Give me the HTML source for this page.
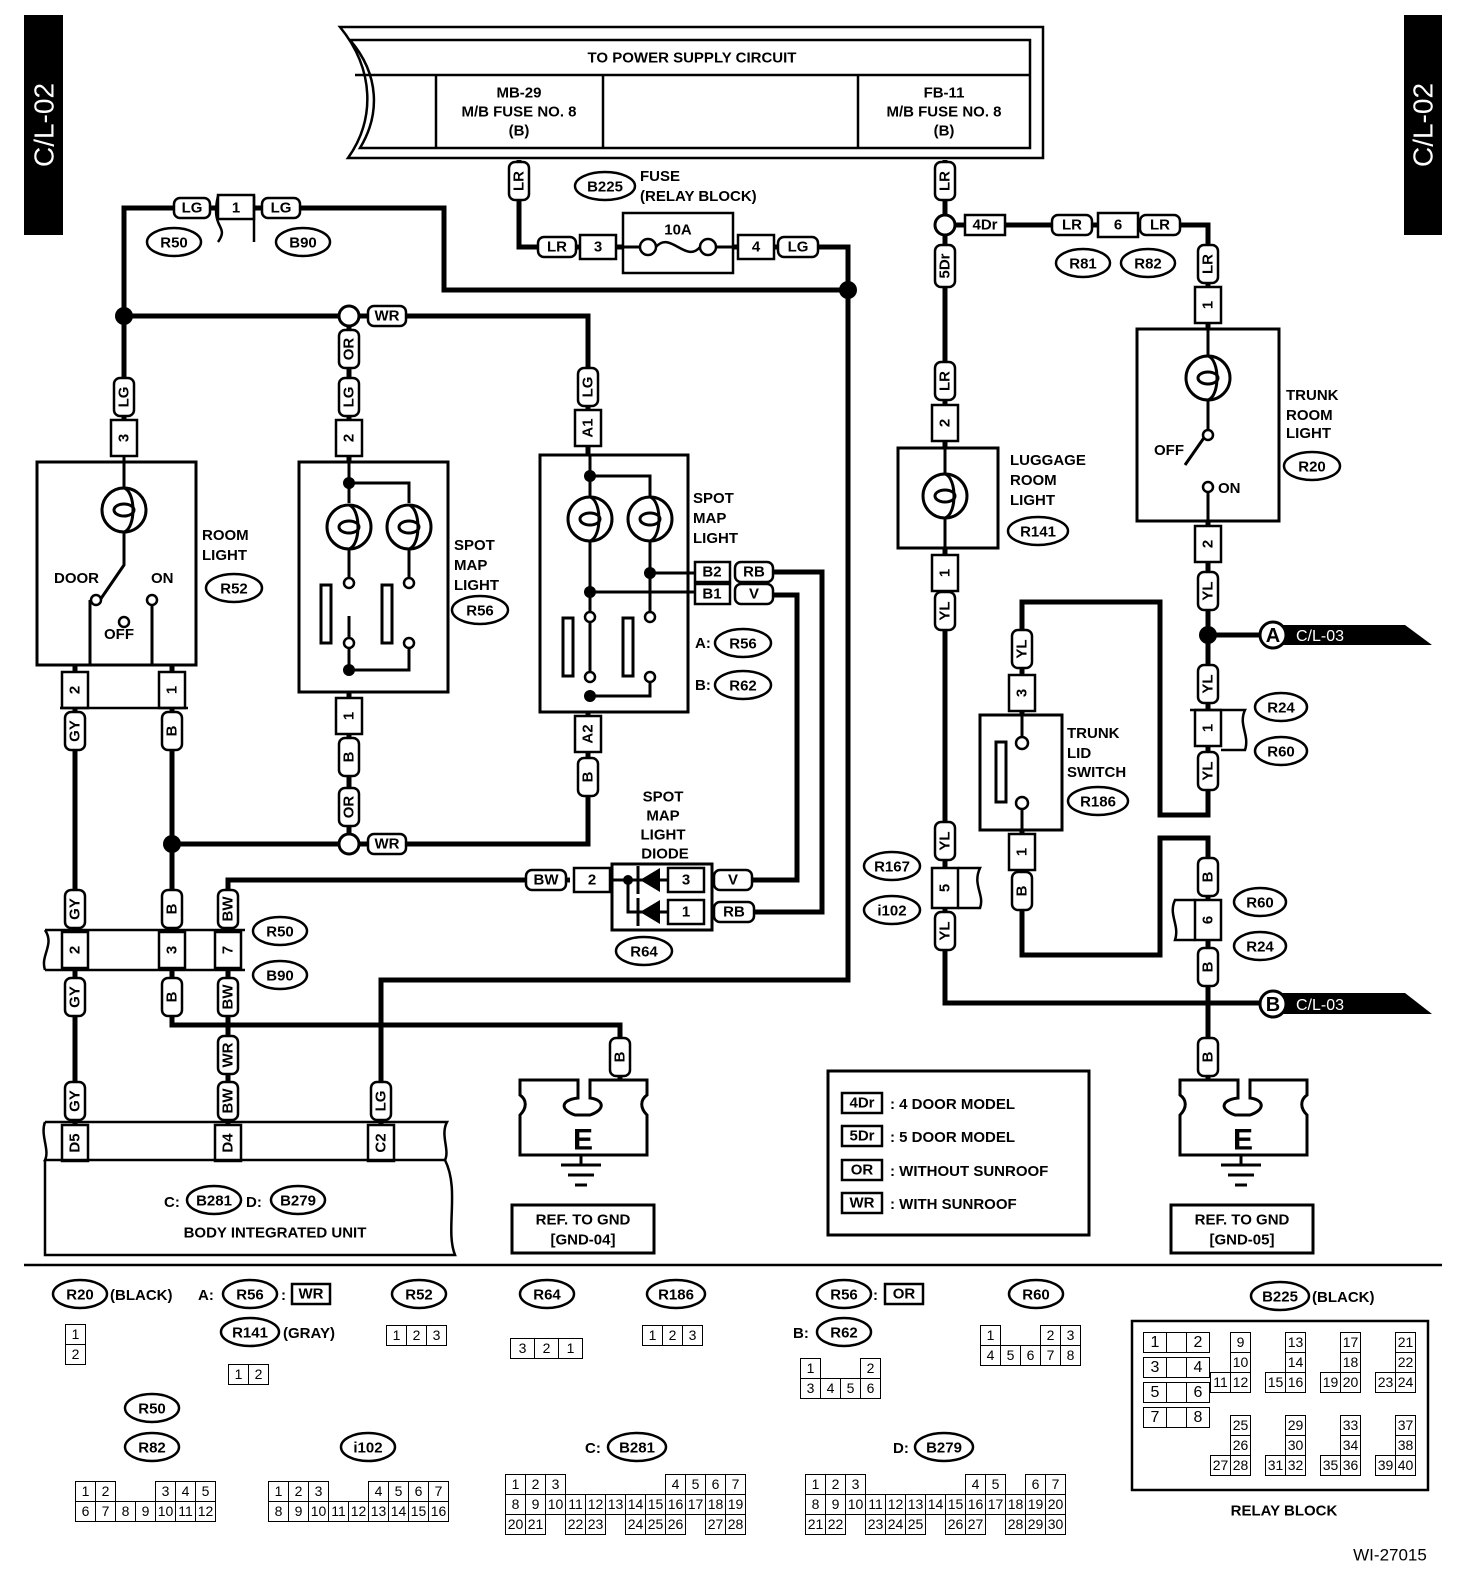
<!DOCTYPE html>
<html><head><meta charset="utf-8">
<style>
html,body{margin:0;padding:0;background:#fff;overflow:hidden;width:1472px;height:1578px;}
#w{position:relative;width:1472px;height:1578px;overflow:hidden;}
svg{position:absolute;left:0;top:0;}
svg text{font-family:"Liberation Sans",sans-serif;font-weight:bold;font-size:15px;fill:#000;}
.t{text-anchor:middle;dominant-baseline:central;}
table.c{position:absolute;border-collapse:collapse;font-family:"Liberation Sans",sans-serif;font-size:14px;}
table.c td{border:1.5px solid #000;width:19px;height:19px;padding:0;text-align:center;line-height:19px;}
table.c td.g{border:none;}
</style></head><body><div id="w">
<svg width="1472" height="1578" viewBox="0 0 1472 1578" xmlns="http://www.w3.org/2000/svg">
<defs>
<g id="lamp"><circle r="22" fill="#fff" stroke="#000" stroke-width="3"/><ellipse rx="10" ry="6" fill="none" stroke="#000" stroke-width="3"/><path d="M0,-22 C12,-18 12,18 0,22" fill="none" stroke="#000" stroke-width="3"/></g>
</defs>
<rect x="24" y="15" width="39" height="220" fill="#000"/>
<text transform="translate(44,125) rotate(-90)" class="t" style="fill:#fff;font-size:28px;font-weight:normal">C/L-02</text>
<rect x="1404" y="15" width="38" height="220" fill="#000"/>
<text transform="translate(1423,125) rotate(-90)" class="t" style="fill:#fff;font-size:28px;font-weight:normal">C/L-02</text>

<g fill="none" stroke="#000" stroke-width="2.5">
<path d="M340,27 H1043 V158 H348 C375,120 375,70 340,27 Z"/>
<path d="M350,40 H1030 V148 H360 C380,115 380,75 350,40 Z"/>
<line x1="355" y1="75" x2="1030" y2="75"/>
<line x1="436" y1="75" x2="436" y2="148"/><line x1="603" y1="75" x2="603" y2="148"/><line x1="858" y1="75" x2="858" y2="148"/>
</g>
<text x="692" y="58" class="t">TO POWER SUPPLY CIRCUIT</text>
<text x="519" y="93" class="t">MB-29</text><text x="519" y="112" class="t">M/B FUSE NO. 8</text><text x="519" y="131" class="t">(B)</text>
<text x="944" y="93" class="t">FB-11</text><text x="944" y="112" class="t">M/B FUSE NO. 8</text><text x="944" y="131" class="t">(B)</text>

<g fill="none" stroke="#000" stroke-width="5" stroke-linejoin="miter">
<path d="M124,440 V208 H444 V290 H848"/>
<path d="M820,247 H848 V980 H381 V1125"/>
<path d="M519,160 V247 H623"/><path d="M733,247 H820"/>
<path d="M124,316 H588 V455"/>
<path d="M349,316 V462"/>
<path d="M75,665 V1125"/>
<path d="M172,665 V1025 H620 V1080"/>
<path d="M172,844 H588 V712"/>
<path d="M349,692 V844"/>
<path d="M228,1125 V880 H570"/>
<path d="M712,880 H797 V595 H760"/>
<path d="M712,912 H822 V572 H770"/>
<path d="M945,160 V448"/>
<path d="M945,225 H1208 V329"/>
<path d="M945,548 V1003 H1260"/>
<path d="M1208,521 V815 H1160 V602 H1022 V715"/>
<path d="M1208,635 H1260"/>
<path d="M1022,830 V955 H1160 V838 H1208 V1080"/>
</g>
<g fill="#000"><circle cx="124" cy="316" r="9"/><circle cx="848" cy="290" r="9"/><circle cx="172" cy="844" r="9"/><circle cx="1208" cy="635" r="9"/></g>
<g fill="#fff" stroke="#000" stroke-width="3"><circle cx="349" cy="316" r="10"/><circle cx="349" cy="844" r="10"/><circle cx="945" cy="225" r="10"/></g>

<rect x="623" y="213" width="110" height="60" fill="#fff" stroke="#000" stroke-width="2.5"/>
<path d="M623,247 H640 M716,247 H733" stroke="#000" stroke-width="3"/>
<circle cx="648" cy="247" r="8" fill="#fff" stroke="#000" stroke-width="2.5"/><circle cx="708" cy="247" r="8" fill="#fff" stroke="#000" stroke-width="2.5"/>
<path d="M656,247 C670,230 686,264 700,247" fill="none" stroke="#000" stroke-width="2.5"/>
<text x="678" y="230" class="t">10A</text>
<text x="640" y="181">FUSE</text><text x="640" y="201">(RELAY BLOCK)</text>

<g fill="#fff" stroke="#000" stroke-width="2.5">
<rect x="174" y="198" width="36" height="20" rx="6"/><rect x="262" y="198" width="38" height="20" rx="6"/>
<rect x="218" y="195" width="36" height="24"/>
<rect x="368" y="306" width="38" height="20" rx="6"/>
<rect x="368" y="834" width="38" height="20" rx="6"/>
<rect x="538" y="237" width="38" height="20" rx="6"/><rect x="580" y="235" width="36" height="24"/>
<rect x="738" y="235" width="36" height="24"/><rect x="778" y="237" width="40" height="20" rx="6"/>
<rect x="965" y="215" width="40" height="20"/>
<rect x="1052" y="215" width="40" height="20" rx="6"/><rect x="1098" y="213" width="40" height="24"/><rect x="1140" y="215" width="40" height="20" rx="6"/>
<rect x="526" y="870" width="40" height="20" rx="6"/><rect x="574" y="868" width="36" height="24"/>
<rect x="668" y="868" width="36" height="24"/><rect x="668" y="900" width="36" height="24"/>
<rect x="714" y="870" width="38" height="20" rx="6"/><rect x="714" y="902" width="40" height="20" rx="6"/>
<rect x="695" y="562" width="35" height="20"/><rect x="695" y="584" width="35" height="20"/>
<rect x="735" y="562" width="38" height="20" rx="6"/><rect x="735" y="584" width="38" height="20" rx="6"/>
</g>
<text x="192" y="208" class="t">LG</text><text x="281" y="208" class="t">LG</text><text x="236" y="208" class="t">1</text>
<text x="387" y="316" class="t">WR</text><text x="387" y="844" class="t">WR</text>
<text x="557" y="247" class="t">LR</text><text x="598" y="247" class="t">3</text><text x="756" y="247" class="t">4</text><text x="798" y="247" class="t">LG</text>
<text x="985" y="225" class="t">4Dr</text><text x="1072" y="225" class="t">LR</text><text x="1118" y="225" class="t">6</text><text x="1160" y="225" class="t">LR</text>
<text x="546" y="880" class="t">BW</text><text x="592" y="880" class="t">2</text><text x="686" y="880" class="t">3</text><text x="686" y="912" class="t">1</text>
<text x="733" y="880" class="t">V</text><text x="734" y="912" class="t">RB</text>
<text x="712" y="572" class="t">B2</text><text x="712" y="594" class="t">B1</text><text x="754" y="572" class="t">RB</text><text x="754" y="594" class="t">V</text>

<g fill="#fff" stroke="#000" stroke-width="2.5">
<rect x="509" y="162" width="20" height="38" rx="6"/>
<rect x="935" y="162" width="20" height="38" rx="6"/>
<rect x="935" y="245" width="20" height="42" rx="6"/>
<rect x="935" y="362" width="20" height="38" rx="6"/>
<rect x="1198" y="245" width="20" height="38" rx="6"/>
<rect x="114" y="378" width="20" height="38" rx="6"/>
<rect x="339" y="330" width="20" height="38" rx="6"/><rect x="339" y="378" width="20" height="38" rx="6"/>
<rect x="578" y="368" width="20" height="38" rx="6"/>
<rect x="65" y="712" width="20" height="38" rx="6"/><rect x="162" y="712" width="20" height="38" rx="6"/>
<rect x="339" y="738" width="20" height="38" rx="6"/><rect x="339" y="788" width="20" height="38" rx="6"/>
<rect x="578" y="758" width="20" height="38" rx="6"/>
<rect x="65" y="890" width="20" height="38" rx="6"/><rect x="162" y="890" width="20" height="38" rx="6"/><rect x="218" y="890" width="20" height="38" rx="6"/>
<rect x="65" y="978" width="20" height="38" rx="6"/><rect x="162" y="978" width="20" height="38" rx="6"/><rect x="218" y="978" width="20" height="38" rx="6"/>
<rect x="218" y="1036" width="20" height="38" rx="6"/>
<rect x="65" y="1082" width="20" height="38" rx="6"/><rect x="218" y="1082" width="20" height="38" rx="6"/><rect x="371" y="1082" width="20" height="38" rx="6"/>
<rect x="610" y="1038" width="20" height="38" rx="6"/>
<rect x="935" y="592" width="20" height="38" rx="6"/>
<rect x="1198" y="572" width="20" height="38" rx="6"/>
<rect x="1012" y="630" width="20" height="38" rx="6"/>
<rect x="1198" y="665" width="20" height="38" rx="6"/><rect x="1198" y="752" width="20" height="38" rx="6"/>
<rect x="935" y="822" width="20" height="38" rx="6"/><rect x="935" y="912" width="20" height="38" rx="6"/>
<rect x="1012" y="872" width="20" height="38" rx="6"/>
<rect x="1198" y="858" width="20" height="38" rx="6"/><rect x="1198" y="948" width="20" height="38" rx="6"/>
<rect x="1198" y="1038" width="20" height="38" rx="6"/>
</g>
<g>
<text transform="translate(519,181) rotate(-90)" class="t">LR</text>
<text transform="translate(945,181) rotate(-90)" class="t">LR</text>
<text transform="translate(945,266) rotate(-90)" class="t">5Dr</text>
<text transform="translate(945,381) rotate(-90)" class="t">LR</text>
<text transform="translate(1208,264) rotate(-90)" class="t">LR</text>
<text transform="translate(124,397) rotate(-90)" class="t">LG</text>
<text transform="translate(349,349) rotate(-90)" class="t">OR</text><text transform="translate(349,397) rotate(-90)" class="t">LG</text>
<text transform="translate(588,387) rotate(-90)" class="t">LG</text>
<text transform="translate(75,731) rotate(-90)" class="t">GY</text><text transform="translate(172,731) rotate(-90)" class="t">B</text>
<text transform="translate(349,757) rotate(-90)" class="t">B</text><text transform="translate(349,807) rotate(-90)" class="t">OR</text>
<text transform="translate(588,777) rotate(-90)" class="t">B</text>
<text transform="translate(75,909) rotate(-90)" class="t">GY</text><text transform="translate(172,909) rotate(-90)" class="t">B</text><text transform="translate(228,909) rotate(-90)" class="t">BW</text>
<text transform="translate(75,997) rotate(-90)" class="t">GY</text><text transform="translate(172,997) rotate(-90)" class="t">B</text><text transform="translate(228,997) rotate(-90)" class="t">BW</text>
<text transform="translate(228,1055) rotate(-90)" class="t">WR</text>
<text transform="translate(75,1101) rotate(-90)" class="t">GY</text><text transform="translate(228,1101) rotate(-90)" class="t">BW</text><text transform="translate(381,1101) rotate(-90)" class="t">LG</text>
<text transform="translate(620,1057) rotate(-90)" class="t">B</text>
<text transform="translate(945,611) rotate(-90)" class="t">YL</text>
<text transform="translate(1208,591) rotate(-90)" class="t">YL</text>
<text transform="translate(1022,649) rotate(-90)" class="t">YL</text>
<text transform="translate(1208,684) rotate(-90)" class="t">YL</text><text transform="translate(1208,771) rotate(-90)" class="t">YL</text>
<text transform="translate(945,841) rotate(-90)" class="t">YL</text><text transform="translate(945,931) rotate(-90)" class="t">YL</text>
<text transform="translate(1022,891) rotate(-90)" class="t">B</text>
<text transform="translate(1208,877) rotate(-90)" class="t">B</text><text transform="translate(1208,967) rotate(-90)" class="t">B</text>
<text transform="translate(1208,1057) rotate(-90)" class="t">B</text>
</g>

<g fill="#fff" stroke="#000" stroke-width="2.5">
<rect x="111" y="420" width="26" height="36"/><rect x="336" y="420" width="26" height="36"/><rect x="575" y="410" width="26" height="36"/>
<rect x="932" y="405" width="26" height="36"/><rect x="1195" y="287" width="26" height="36"/>
<rect x="62" y="672" width="26" height="36"/><rect x="159" y="672" width="26" height="36"/>
<rect x="336" y="698" width="26" height="36"/><rect x="575" y="716" width="26" height="36"/>
<rect x="932" y="555" width="26" height="36"/><rect x="1195" y="526" width="26" height="36"/>
<rect x="1009" y="675" width="26" height="36"/><rect x="1009" y="834" width="26" height="36"/>
<rect x="1195" y="710" width="26" height="36"/><rect x="932" y="868" width="26" height="40"/><rect x="1195" y="900" width="26" height="40"/>
<rect x="62" y="1125" width="26" height="36"/><rect x="215" y="1125" width="26" height="36"/><rect x="368" y="1125" width="26" height="36"/>
</g>
<text transform="translate(124,438) rotate(-90)" class="t">3</text><text transform="translate(349,438) rotate(-90)" class="t">2</text><text transform="translate(588,428) rotate(-90)" class="t">A1</text>
<text transform="translate(945,423) rotate(-90)" class="t">2</text><text transform="translate(1208,305) rotate(-90)" class="t">1</text>
<text transform="translate(75,690) rotate(-90)" class="t">2</text><text transform="translate(172,690) rotate(-90)" class="t">1</text>
<text transform="translate(349,716) rotate(-90)" class="t">1</text><text transform="translate(588,734) rotate(-90)" class="t">A2</text>
<text transform="translate(945,573) rotate(-90)" class="t">1</text><text transform="translate(1208,544) rotate(-90)" class="t">2</text>
<text transform="translate(1022,693) rotate(-90)" class="t">3</text><text transform="translate(1022,852) rotate(-90)" class="t">1</text>
<text transform="translate(1208,728) rotate(-90)" class="t">1</text><text transform="translate(945,888) rotate(-90)" class="t">5</text><text transform="translate(1208,920) rotate(-90)" class="t">6</text>
<text transform="translate(75,1143) rotate(-90)" class="t">D5</text><text transform="translate(228,1143) rotate(-90)" class="t">D4</text><text transform="translate(381,1143) rotate(-90)" class="t">C2</text>

<path d="M45,930 H245 M45,970 H245 M45,930 C55,945 40,955 45,970" fill="none" stroke="#000" stroke-width="2.5"/>
<rect x="62" y="932" width="26" height="36" fill="#fff" stroke="#000" stroke-width="2.5"/><rect x="159" y="932" width="26" height="36" fill="#fff" stroke="#000" stroke-width="2.5"/><rect x="215" y="932" width="26" height="36" fill="#fff" stroke="#000" stroke-width="2.5"/>
<text transform="translate(75,950) rotate(-90)" class="t">2</text><text transform="translate(172,950) rotate(-90)" class="t">3</text><text transform="translate(228,950) rotate(-90)" class="t">7</text>
<path d="M60,708 H188" stroke="#000" stroke-width="2.5"/>

<g fill="none" stroke="#000" stroke-width="3">
<rect x="37" y="462" width="159" height="203"/>
<rect x="299" y="462" width="149" height="230"/>
<rect x="540" y="455" width="148" height="257"/>
<rect x="898" y="448" width="100" height="100"/>
<rect x="1137" y="329" width="142" height="192"/>
<rect x="980" y="715" width="82" height="115"/>
<rect x="612" y="864" width="100" height="66"/>
</g>
<g stroke="#000" stroke-width="3" fill="none">
<path d="M124,456 V488 M124,532 V565 L100,600"/>
<path d="M90,600 V665 M152,600 V665"/>
</g>
<use href="#lamp" x="124" y="510"/>
<g fill="#fff" stroke="#000" stroke-width="2.5"><circle cx="96" cy="600" r="5"/><circle cx="152" cy="600" r="5"/><circle cx="124" cy="622" r="5"/></g>
<text x="54" y="583">DOOR</text><text x="151" y="583">ON</text><text x="104" y="639">OFF</text>
<text x="202" y="540">ROOM</text><text x="202" y="560">LIGHT</text>
<g stroke="#000" stroke-width="3" fill="none">
<path d="M349,462 V503 M349,483 H409 V503 M349,549 V578 M409,549 V578 M349,616 V670 H409 V648"/>
<rect x="321" y="585" width="10" height="58"/><rect x="382" y="585" width="10" height="58"/>
</g>
<use href="#lamp" x="349" y="527"/><use href="#lamp" x="409" y="527"/>
<g fill="#fff" stroke="#000" stroke-width="2.5"><circle cx="349" cy="583" r="5"/><circle cx="409" cy="583" r="5"/><circle cx="349" cy="643" r="5"/><circle cx="409" cy="643" r="5"/></g>
<circle cx="349" cy="483" r="6"/><circle cx="349" cy="670" r="6"/>
<text x="454" y="550">SPOT</text><text x="454" y="570">MAP</text><text x="454" y="590">LIGHT</text>
<g stroke="#000" stroke-width="3" fill="none">
<path d="M590,455 V497 M590,476 H650 V497 M590,541 V612 M650,541 V612 M590,592 H695 M650,573 H695 M590,622 V672 M590,696 H650 V680"/>
<rect x="563" y="618" width="10" height="58"/><rect x="623" y="618" width="10" height="58"/>
</g>
<use href="#lamp" x="590" y="519"/><use href="#lamp" x="650" y="519"/>
<g fill="#fff" stroke="#000" stroke-width="2.5"><circle cx="590" cy="617" r="5"/><circle cx="650" cy="617" r="5"/><circle cx="590" cy="677" r="5"/><circle cx="650" cy="677" r="5"/></g>
<circle cx="590" cy="476" r="6"/><circle cx="650" cy="573" r="6"/><circle cx="590" cy="592" r="6"/><circle cx="590" cy="696" r="6"/>
<text x="693" y="503">SPOT</text><text x="693" y="523">MAP</text><text x="693" y="543">LIGHT</text>
<text x="695" y="648">A:</text><text x="695" y="690">B:</text>
<g stroke="#000" stroke-width="3" fill="none"><path d="M612,880 H668 M628,880 V912 H668"/></g>
<path d="M660,868 V892 L640,880 Z M660,900 V924 L640,912 Z"/>
<path d="M638,866 V894 M638,898 V926" stroke="#000" stroke-width="3"/>
<circle cx="628" cy="880" r="5"/>
<text x="663" y="797" class="t">SPOT</text><text x="663" y="816" class="t">MAP</text><text x="663" y="835" class="t">LIGHT</text><text x="665" y="854" class="t">DIODE</text>
<path d="M945,448 V473 M945,518 V548" stroke="#000" stroke-width="3"/>
<use href="#lamp" x="945" y="496"/>
<text x="1010" y="465">LUGGAGE</text><text x="1010" y="485">ROOM</text><text x="1010" y="505">LIGHT</text>
<path d="M1208,329 V355 M1208,400 V432 L1185,465 M1208,491 V521" stroke="#000" stroke-width="3" fill="none"/>
<use href="#lamp" x="1208" y="378"/>
<g fill="#fff" stroke="#000" stroke-width="2.5"><circle cx="1208" cy="435" r="5"/><circle cx="1208" cy="487" r="5"/></g>
<text x="1154" y="455">OFF</text><text x="1218" y="493">ON</text>
<text x="1286" y="400">TRUNK</text><text x="1286" y="420">ROOM</text><text x="1286" y="438">LIGHT</text>
<path d="M1022,715 V738 M1022,808 V830" stroke="#000" stroke-width="3"/>
<rect x="996" y="742" width="10" height="60" fill="none" stroke="#000" stroke-width="3"/>
<g fill="#fff" stroke="#000" stroke-width="2.5"><circle cx="1022" cy="743" r="6"/><circle cx="1022" cy="803" r="6"/></g>
<text x="1067" y="738">TRUNK</text><text x="1067" y="758">LID</text><text x="1067" y="777">SWITCH</text>

<path d="M1190,710 H1245 C1238,725 1250,735 1245,750 H1221" fill="none" stroke="#000" stroke-width="2.5"/>
<path d="M958,868 H980 C972,885 985,895 980,908 H958" fill="none" stroke="#000" stroke-width="2.5"/>
<path d="M1195,900 H1175 C1168,915 1180,925 1175,940 H1195" fill="none" stroke="#000" stroke-width="2.5"/>
<path d="M218,196 C210,230 230,225 218,242 M254,196 V242" fill="none" stroke="#000" stroke-width="2.5"/>

<path d="M1270,625 H1405 L1432,645 H1270 Z M1270,993 H1405 L1432,1014 H1270 Z" fill="#000"/>
<circle cx="1273" cy="635" r="13" fill="#fff" stroke="#000" stroke-width="3"/><text x="1273" y="636" class="t" style="font-size:20px">A</text>
<circle cx="1273" cy="1004" r="13" fill="#fff" stroke="#000" stroke-width="3"/><text x="1273" y="1005" class="t" style="font-size:20px">B</text>
<text x="1296" y="641" style="fill:#fff;font-weight:normal;font-size:16px">C/L-03</text>
<text x="1296" y="1010" style="fill:#fff;font-weight:normal;font-size:16px">C/L-03</text>

<g fill="#fff" stroke="#000" stroke-width="2.5">
<ellipse cx="174" cy="242" rx="27" ry="14"/><ellipse cx="303" cy="242" rx="27" ry="14"/>
<ellipse cx="605" cy="186" rx="30" ry="14"/>
<ellipse cx="1083" cy="263" rx="27" ry="14"/><ellipse cx="1148" cy="263" rx="27" ry="14"/>
<ellipse cx="234" cy="588" rx="28" ry="14"/><ellipse cx="480" cy="610" rx="28" ry="14"/>
<ellipse cx="743" cy="643" rx="28" ry="14"/><ellipse cx="743" cy="685" rx="28" ry="14"/>
<ellipse cx="1038" cy="531" rx="30" ry="14"/><ellipse cx="1312" cy="466" rx="28" ry="14"/>
<ellipse cx="1281" cy="707" rx="26" ry="14"/><ellipse cx="1281" cy="751" rx="26" ry="14"/>
<ellipse cx="1098" cy="801" rx="30" ry="14"/>
<ellipse cx="892" cy="866" rx="28" ry="14"/><ellipse cx="892" cy="910" rx="28" ry="14"/>
<ellipse cx="1260" cy="902" rx="26" ry="14"/><ellipse cx="1260" cy="946" rx="26" ry="14"/>
<ellipse cx="280" cy="931" rx="27" ry="14"/><ellipse cx="280" cy="975" rx="27" ry="14"/>
<ellipse cx="644" cy="951" rx="28" ry="14"/>
<ellipse cx="214" cy="1200" rx="27" ry="14"/><ellipse cx="298" cy="1200" rx="27" ry="14"/>
</g>
<text x="174" y="243" class="t">R50</text><text x="303" y="243" class="t">B90</text><text x="605" y="187" class="t">B225</text>
<text x="1083" y="264" class="t">R81</text><text x="1148" y="264" class="t">R82</text>
<text x="234" y="589" class="t">R52</text><text x="480" y="611" class="t">R56</text>
<text x="743" y="644" class="t">R56</text><text x="743" y="686" class="t">R62</text>
<text x="1038" y="532" class="t">R141</text><text x="1312" y="467" class="t">R20</text>
<text x="1281" y="708" class="t">R24</text><text x="1281" y="752" class="t">R60</text>
<text x="1098" y="802" class="t">R186</text>
<text x="892" y="867" class="t">R167</text><text x="892" y="911" class="t">i102</text>
<text x="1260" y="903" class="t">R60</text><text x="1260" y="947" class="t">R24</text>
<text x="280" y="932" class="t">R50</text><text x="280" y="976" class="t">B90</text>
<text x="644" y="952" class="t">R64</text>
<text x="214" y="1201" class="t">B281</text><text x="298" y="1201" class="t">B279</text>
<text x="164" y="1207">C:</text><text x="246" y="1207">D:</text>

<g fill="none" stroke="#000" stroke-width="2.5">
<path d="M45,1122 H447 C440,1135 450,1150 445,1160 H45 C50,1150 40,1135 45,1122"/>
<path d="M45,1160 V1255 H455 C445,1230 460,1190 445,1160"/>
</g>
<text x="275" y="1233" class="t">BODY INTEGRATED UNIT</text>

<g fill="none" stroke="#000" stroke-width="3">
<path d="M520,1080 H578 V1098 C560,1100 560,1110 575,1115 H590 C605,1110 605,1100 590,1098 V1080 H647 V1095 C640,1100 640,1108 647,1115 V1155 H520 V1115 C527,1108 527,1100 520,1095 Z"/>
<path d="M1180,1080 H1238 V1098 C1220,1100 1220,1110 1235,1115 H1250 C1265,1110 1265,1100 1250,1098 V1080 H1307 V1095 C1300,1100 1300,1108 1307,1115 V1155 H1180 V1115 C1187,1108 1187,1100 1180,1095 Z"/>
<path d="M581,1155 V1165 M561,1165 H601 M568,1175 H594 M575,1185 H587"/>
<path d="M1241,1155 V1165 M1221,1165 H1261 M1228,1175 H1254 M1235,1185 H1247"/>
<rect x="512" y="1205" width="142" height="48"/>
<rect x="1171" y="1205" width="142" height="48"/>
<rect x="828" y="1071" width="261" height="164"/>
</g>
<text x="583" y="1140" class="t" style="font-size:30px">E</text><text x="1243" y="1140" class="t" style="font-size:30px">E</text>
<text x="583" y="1220" class="t">REF. TO GND</text><text x="583" y="1240" class="t">[GND-04]</text>
<text x="1242" y="1220" class="t">REF. TO GND</text><text x="1242" y="1240" class="t">[GND-05]</text>

<g fill="#fff" stroke="#000" stroke-width="2.5">
<rect x="842" y="1093" width="40" height="20"/><rect x="842" y="1126" width="40" height="20"/><rect x="842" y="1160" width="40" height="20"/><rect x="842" y="1193" width="40" height="20"/>
</g>
<text x="862" y="1103" class="t">4Dr</text><text x="862" y="1136" class="t">5Dr</text><text x="862" y="1170" class="t">OR</text><text x="862" y="1203" class="t">WR</text>
<text x="890" y="1109">: 4 DOOR MODEL</text><text x="890" y="1142">: 5 DOOR MODEL</text><text x="890" y="1176">: WITHOUT SUNROOF</text><text x="890" y="1209">: WITH SUNROOF</text>

<line x1="24" y1="1265" x2="1442" y2="1265" stroke="#000" stroke-width="2.5"/>

<g fill="#fff" stroke="#000" stroke-width="2.5">
<ellipse cx="80" cy="1294" rx="27" ry="14"/><ellipse cx="250" cy="1294" rx="27" ry="14"/><ellipse cx="250" cy="1332" rx="29" ry="14"/>
<ellipse cx="419" cy="1294" rx="27" ry="14"/><ellipse cx="547" cy="1294" rx="27" ry="14"/><ellipse cx="676" cy="1294" rx="29" ry="14"/>
<ellipse cx="844" cy="1294" rx="27" ry="14"/><ellipse cx="844" cy="1332" rx="27" ry="14"/><ellipse cx="1036" cy="1294" rx="27" ry="14"/>
<ellipse cx="1280" cy="1296" rx="29" ry="14"/>
<ellipse cx="152" cy="1408" rx="27" ry="14"/><ellipse cx="152" cy="1447" rx="27" ry="14"/><ellipse cx="368" cy="1447" rx="27" ry="14"/>
<ellipse cx="637" cy="1447" rx="29" ry="14"/><ellipse cx="944" cy="1447" rx="29" ry="14"/>
<rect x="292" y="1284" width="38" height="20"/><rect x="885" y="1284" width="38" height="20"/>
<rect x="1132" y="1321" width="296" height="169"/>
</g>
<text x="80" y="1295" class="t">R20</text><text x="250" y="1295" class="t">R56</text><text x="250" y="1333" class="t">R141</text>
<text x="419" y="1295" class="t">R52</text><text x="547" y="1295" class="t">R64</text><text x="676" y="1295" class="t">R186</text>
<text x="844" y="1295" class="t">R56</text><text x="844" y="1333" class="t">R62</text><text x="1036" y="1295" class="t">R60</text>
<text x="1280" y="1297" class="t">B225</text>
<text x="152" y="1409" class="t">R50</text><text x="152" y="1448" class="t">R82</text><text x="368" y="1448" class="t">i102</text>
<text x="637" y="1448" class="t">B281</text><text x="944" y="1448" class="t">B279</text>
<text x="311" y="1294" class="t">WR</text><text x="904" y="1294" class="t">OR</text>
<text x="110" y="1300">(BLACK)</text><text x="198" y="1300">A:</text><text x="281" y="1300">:</text><text x="283" y="1338">(GRAY)</text>
<text x="873" y="1300">:</text><text x="793" y="1338">B:</text><text x="1312" y="1302">(BLACK)</text>
<text x="585" y="1453">C:</text><text x="893" y="1453">D:</text>
<text x="1284" y="1511" class="t">RELAY BLOCK</text>
<text x="1390" y="1555" class="t" style="font-weight:normal;font-size:17px">WI-27015</text>
</svg>

<table class="c" style="left:65px;top:1324px"><tr><td>1</td></tr><tr><td>2</td></tr></table>
<table class="c" style="left:228px;top:1364px"><tr><td>1</td><td>2</td></tr></table>
<table class="c" style="left:386px;top:1325px"><tr><td>1</td><td>2</td><td>3</td></tr></table>
<table class="c" style="left:510px;top:1338px"><tr><td style="width:23px">3</td><td style="width:23px">2</td><td style="width:23px">1</td></tr></table>
<table class="c" style="left:642px;top:1325px"><tr><td>1</td><td>2</td><td>3</td></tr></table>
<table class="c" style="left:800px;top:1358px"><tr><td>1</td><td class="g"></td><td class="g"></td><td>2</td></tr><tr><td>3</td><td>4</td><td>5</td><td>6</td></tr></table>
<table class="c" style="left:980px;top:1325px"><tr><td>1</td><td class="g"></td><td class="g"></td><td>2</td><td>3</td></tr><tr><td>4</td><td>5</td><td>6</td><td>7</td><td>8</td></tr></table>
<table class="c" style="left:75px;top:1481px"><tr><td>1</td><td>2</td><td class="g"></td><td class="g"></td><td>3</td><td>4</td><td>5</td></tr><tr><td>6</td><td>7</td><td>8</td><td>9</td><td>10</td><td>11</td><td>12</td></tr></table>
<table class="c" style="left:268px;top:1481px"><tr><td>1</td><td>2</td><td>3</td><td class="g"></td><td class="g"></td><td>4</td><td>5</td><td>6</td><td>7</td></tr><tr><td>8</td><td>9</td><td>10</td><td>11</td><td>12</td><td>13</td><td>14</td><td>15</td><td>16</td></tr></table>
<table class="c" style="left:505px;top:1474px"><tr><td>1</td><td>2</td><td>3</td><td class="g"></td><td class="g"></td><td class="g"></td><td class="g"></td><td class="g"></td><td>4</td><td>5</td><td>6</td><td>7</td></tr><tr><td>8</td><td>9</td><td>10</td><td>11</td><td>12</td><td>13</td><td>14</td><td>15</td><td>16</td><td>17</td><td>18</td><td>19</td></tr><tr><td>20</td><td>21</td><td class="g"></td><td>22</td><td>23</td><td class="g"></td><td>24</td><td>25</td><td>26</td><td class="g"></td><td>27</td><td>28</td></tr></table>
<table class="c" style="left:805px;top:1474px"><tr><td>1</td><td>2</td><td>3</td><td class="g"></td><td class="g"></td><td class="g"></td><td class="g"></td><td class="g"></td><td>4</td><td>5</td><td class="g"></td><td>6</td><td>7</td></tr><tr><td>8</td><td>9</td><td>10</td><td>11</td><td>12</td><td>13</td><td>14</td><td>15</td><td>16</td><td>17</td><td>18</td><td>19</td><td>20</td></tr><tr><td>21</td><td>22</td><td class="g"></td><td>23</td><td>24</td><td>25</td><td class="g"></td><td>26</td><td>27</td><td class="g"></td><td>28</td><td>29</td><td>30</td></tr></table>
<table class="c" style="left:1143px;top:1332px;font-size:16px"><tr><td style="width:22px">1</td><td style="width:8px"></td><td style="width:22px">2</td></tr><tr><td class="g" style="height:4px" colspan="3"></td></tr><tr><td>3</td><td></td><td>4</td></tr><tr><td class="g" style="height:4px" colspan="3"></td></tr><tr><td>5</td><td></td><td>6</td></tr><tr><td class="g" style="height:4px" colspan="3"></td></tr><tr><td>7</td><td></td><td>8</td></tr></table>
<table class="c" style="left:1210px;top:1332px"><tr><td class="g"></td><td>9</td></tr><tr><td class="g"></td><td>10</td></tr><tr><td>11</td><td>12</td></tr></table>
<table class="c" style="left:1265px;top:1332px"><tr><td class="g"></td><td>13</td></tr><tr><td class="g"></td><td>14</td></tr><tr><td>15</td><td>16</td></tr></table>
<table class="c" style="left:1320px;top:1332px"><tr><td class="g"></td><td>17</td></tr><tr><td class="g"></td><td>18</td></tr><tr><td>19</td><td>20</td></tr></table>
<table class="c" style="left:1375px;top:1332px"><tr><td class="g"></td><td>21</td></tr><tr><td class="g"></td><td>22</td></tr><tr><td>23</td><td>24</td></tr></table>
<table class="c" style="left:1210px;top:1415px"><tr><td class="g"></td><td>25</td></tr><tr><td class="g"></td><td>26</td></tr><tr><td>27</td><td>28</td></tr></table>
<table class="c" style="left:1265px;top:1415px"><tr><td class="g"></td><td>29</td></tr><tr><td class="g"></td><td>30</td></tr><tr><td>31</td><td>32</td></tr></table>
<table class="c" style="left:1320px;top:1415px"><tr><td class="g"></td><td>33</td></tr><tr><td class="g"></td><td>34</td></tr><tr><td>35</td><td>36</td></tr></table>
<table class="c" style="left:1375px;top:1415px"><tr><td class="g"></td><td>37</td></tr><tr><td class="g"></td><td>38</td></tr><tr><td>39</td><td>40</td></tr></table>
</div></body></html>
